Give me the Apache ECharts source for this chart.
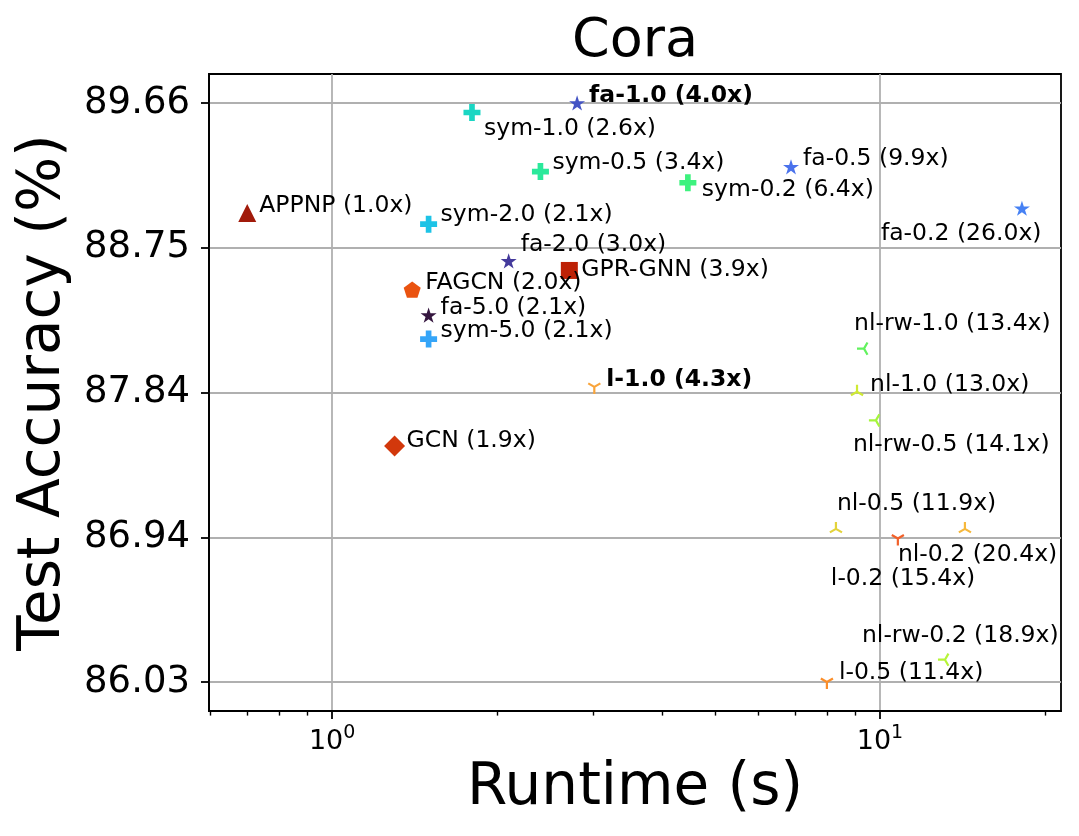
<!DOCTYPE html>
<html>
<head>
<meta charset="utf-8">
<script src="https://cdn.jsdelivr.net/npm/echarts@6/dist/echarts.min.js"></script>
<style>
  html,body{margin:0;padding:0;background:#fff;}
  #main{width:1079px;height:836px;}
</style>
</head>
<body>
<div id="main"></div>
<script>
// 数据：方法名(加速比)、运行时间(s)、测试精度(%)
var labels = ['APPNP (1.0x)', 'GCN (1.9x)', 'GPR-GNN (3.9x)', 'FAGCN (2.0x)',
  'fa-1.0 (4.0x)', 'fa-0.5 (9.9x)', 'fa-0.2 (26.0x)', 'fa-2.0 (3.0x)', 'fa-5.0 (2.1x)',
  'sym-1.0 (2.6x)', 'sym-0.5 (3.4x)', 'sym-0.2 (6.4x)', 'sym-2.0 (2.1x)', 'sym-5.0 (2.1x)',
  'l-1.0 (4.3x)', 'l-0.5 (11.4x)', 'l-0.2 (15.4x)',
  'nl-1.0 (13.0x)', 'nl-0.5 (11.9x)', 'nl-0.2 (20.4x)',
  'nl-rw-1.0 (13.4x)', 'nl-rw-0.5 (14.1x)', 'nl-rw-0.2 (18.9x)'];
var runtimes = [0.70, 1.30, 2.71, 1.40,
  2.80, 6.88, 18.16, 2.10, 1.50,
  1.80, 2.40, 4.46, 1.50, 1.50,
  3.01, 8.00, 10.78,
  9.08, 8.31, 14.29,
  9.35, 9.83, 13.14];
var accuracy = [88.97, 87.51, 88.61, 88.49,
  89.66, 89.26, 89.00, 88.67, 88.33,
  89.60, 89.23, 89.16, 88.90, 88.18,
  87.88, 86.03, 86.93,
  87.85, 86.99, 86.99,
  88.12, 87.67, 86.17];
var markers = ['triangle', 'diamond', 'square', 'pentagon',
  'star', 'star', 'star', 'star', 'star',
  'plus', 'plus', 'plus', 'plus', 'plus',
  'tri_down', 'tri_down', 'tri_down',
  'tri_up', 'tri_up', 'tri_up',
  'tri_left', 'tri_left', 'tri_left'];
var colors = ['#a11a0a', '#d2380c', '#bd2106', '#ea5310',
  '#4454c4', '#4a72ec', '#4681f4', '#443a9c', '#35163f',
  '#1ad6c3', '#2ae99b', '#3df27e', '#1dc3e6', '#35a5f8',
  '#f9a43a', '#fb8e2a', '#f2612a',
  '#cfea34', '#e3d33a', '#f6b83c',
  '#62f25e', '#a5f53c', '#b6f438'];
var boldLabels = ['fa-1.0 (4.0x)', 'l-1.0 (4.3x)'];
var yTicks = [86.03, 86.9375, 87.845, 88.7525, 89.66];
var yTickLabels = ['86.03', '86.94', '87.84', '88.75', '89.66'];
var xMajor = [1, 10];
var xMajorExp = ['0', '1'];
var xMinor = [0.6, 0.7, 0.8, 0.9, 2, 3, 4, 5, 6, 7, 8, 9, 20];

// 标注文字相对点的偏移(像素)
var labelOffsets = [[12,-7],[12,-5],[12,-1],[13,-7],
  [12,-7],[12,-8],[-141,26],[12,-16],[12,-7],
  [12,16],[12,-9],[14,7],[12,-9],[12,-8],
  [12,-7],[12,-9],[-67,40],
  [13,-7],[1,-25],[-67,26],
  [-10,-25],[-23,24],[-83,-24]];

var FONT = 'DejaVu Sans';
var shapes = {
  triangle: {symbol:'triangle', size:18},
  diamond: {symbol:'diamond', size:21},
  square: {symbol:'rect', size:17},
  pentagon: {symbol:'path://M0 -100 L95.1 -30.9 L58.8 80.9 L-58.8 80.9 L-95.1 -30.9 Z', size:17},
  star: {symbol:'path://M0 -100 L22.45 -30.9 L95.1 -30.9 L36.33 11.8 L58.8 80.9 L0 38.2 L-58.8 80.9 L-36.33 11.8 L-95.1 -30.9 L-22.45 -30.9 Z', size:16},
  plus: {symbol:'path://M-1 -3 L-1 -1 L-3 -1 L-3 1 L-1 1 L-1 3 L1 3 L1 1 L3 1 L3 -1 L1 -1 L1 -3 Z', size:17},
  tri_down: {symbol:'path://M0 0 L0 100 M0 0 L-86.6 -50 M0 0 L86.6 -50 M0 -100 L0 -100', size:14, line:true},
  tri_up: {symbol:'path://M0 0 L0 -100 M0 0 L-86.6 50 M0 0 L86.6 50 M0 100 L0 100', size:14, line:true},
  tri_left: {symbol:'path://M0 0 L-100 0 M0 0 L50 86.6 M0 0 L50 -86.6 M100 0 L100 0', size:14, line:true}
};

var points = labels.map(function(name, i){
  var sh = shapes[markers[i]];
  return {
    name: name,
    value: [runtimes[i], accuracy[i]],
    symbol: sh.symbol,
    symbolSize: sh.size,
    symbolKeepAspect: true,
    itemStyle: sh.line ? {color:'none', borderColor:colors[i], borderWidth:2.2, opacity:1}
                       : {color:colors[i], borderWidth:0, opacity:1},
    label: {
      show: true,
      position: 'inside',
      align: 'left',
      verticalAlign: 'middle',
      offset: labelOffsets[i],
      formatter: '{b}',
      color: '#000',
      opacity: 1,
      fontFamily: FONT,
      fontSize: 23.5,
      fontWeight: boldLabels.indexOf(name) > -1 ? 'bold' : 'normal'
    }
  };
});

var gridRect = {left:209, top:74, right:18, bottom:125};
var xMin = 0.596, xMax = 21.4;

var chart = echarts.init(document.getElementById('main'));
chart.setOption({
  animation: false,
  backgroundColor: '#fff',
  title: {
    text: 'Cora',
    left: 635,
    top: 15,
    padding: 0,
    textAlign: 'center',
    textStyle: {fontFamily:FONT, fontSize:54, fontWeight:'normal', color:'#000'}
  },
  grid: [
    Object.assign({show:true, borderColor:'#000', borderWidth:1.8, containLabel:false}, gridRect),
    Object.assign({show:false}, gridRect)
  ],
  xAxis: [{
    type: 'log',
    gridIndex: 0,
    min: xMin,
    max: xMax,
    name: 'Runtime (s)',
    nameLocation: 'middle',
    nameGap: 75,
    nameTextStyle: {fontFamily:FONT, fontSize:58, color:'#000', verticalAlign:'middle'},
    axisLine: {show:true, lineStyle:{color:'#000', width:1.8}},
    axisTick: {show:true, customValues:xMajor, length:8, lineStyle:{color:'#000', width:1.8}},
    axisLabel: {
      customValues: xMajor,
      margin: 13,
      fontFamily: FONT,
      fontSize: 27,
      color: '#000',
      formatter: function(v){
        return '{base|10}{sup|' + xMajorExp[Math.round(Math.log10(v))] + '}';
      },
      rich: {
        base: {fontFamily:FONT, fontSize:27, color:'#000', lineHeight:31, verticalAlign:'bottom'},
        sup: {fontFamily:FONT, fontSize:19, color:'#000', lineHeight:19, verticalAlign:'top'}
      }
    },
    splitLine: {show:true, lineStyle:{color:'#b0b0b0', width:1.8}}
  }, {
    // 次刻度
    type: 'log',
    gridIndex: 1,
    min: xMin,
    max: xMax,
    axisLine: {show:false},
    axisTick: {show:true, customValues:xMinor, length:4.6, lineStyle:{color:'#000', width:1.4}},
    axisLabel: {show:false},
    splitLine: {show:false}
  }],
  yAxis: [{
    type: 'value',
    gridIndex: 0,
    min: 85.8485,
    max: 89.8415,
    name: 'Test Accuracy (%)',
    nameLocation: 'middle',
    nameGap: 159,
    nameTextStyle: {fontFamily:FONT, fontSize:58, color:'#000', verticalAlign:'middle'},
    axisLine: {show:true, lineStyle:{color:'#000', width:1.8}},
    axisTick: {show:true, customValues:yTicks, length:8, lineStyle:{color:'#000', width:1.8}},
    axisLabel: {
      customValues: yTicks,
      margin: 19,
      fontFamily: FONT,
      fontSize: 37,
      color: '#000',
      formatter: function(v){
        var k = 0;
        yTicks.forEach(function(t, j){ if (Math.abs(t - v) < Math.abs(yTicks[k] - v)) k = j; });
        return yTickLabels[k];
      }
    },
    splitLine: {show:true, lineStyle:{color:'#b0b0b0', width:1.8}}
  }, {
    type: 'value',
    gridIndex: 1,
    min: 0,
    max: 1,
    show: false
  }],
  series: [{
    type: 'scatter',
    xAxisIndex: 0,
    yAxisIndex: 0,
    data: points
  }]
});
</script>
</body>
</html>
